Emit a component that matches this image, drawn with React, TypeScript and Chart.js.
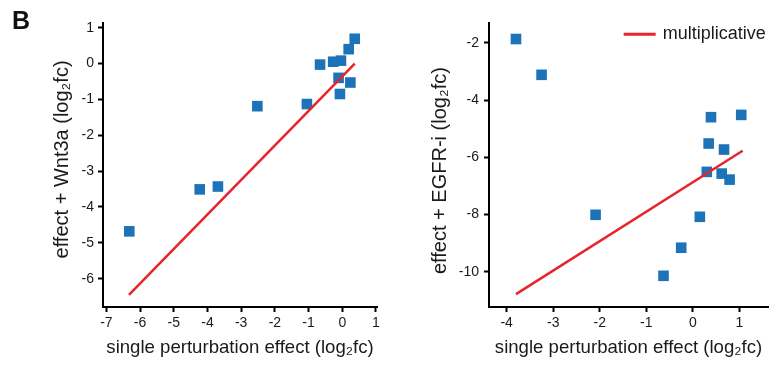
import React, { useEffect, useRef } from "react";
import { Chart, registerables } from "chart.js";

Chart.register(...registerables);

const FONT = '"Liberation Sans", Arial, Helvetica, sans-serif';
const TEXT = "#1a1a1a";
const BLUE = "#1c73b9";
const RED = "#e8232a";

// Left panel: effect + Wnt3a vs single perturbation effect
const wntSingle = [-6.32, -4.23, -3.69, -2.52, -1.05, -0.66, -0.27, -0.04, -0.11, -0.07, 0.24, 0.19, 0.37];
const wntCombined = [-4.68, -3.51, -3.43, -1.19, -1.13, -0.03, 0.05, 0.08, -0.4, -0.85, -0.53, 0.4, 0.69];
const wntLineX = [-6.33, 0.37];
const wntLineY = [-6.45, 0.0];

// Right panel: effect + EGFR-i vs single perturbation effect
const egfrSingle = [-3.8, -3.25, -2.09, -0.63, -0.25, 0.15, 0.3, 0.34, 0.39, 0.67, 0.62, 0.79, 1.04];
const egfrCombined = [-1.87, -3.12, -8.01, -10.14, -9.16, -8.08, -6.51, -5.52, -4.6, -5.73, -6.57, -6.78, -4.52];
const egfrLineX = [-3.8, 1.07];
const egfrLineY = [-10.78, -5.77];

const lineLabel = "multiplicative";
const xTitle = "single perturbation effect (log\u2082fc)";
const wntYTitle = "  effect + Wnt3a (log\u2082fc)";
const egfrYTitle = "effect + EGFR-i (log\u2082fc)  ";
const panelLabel = "B";

const inlineLegend = {
  id: "inlineLegend",
  afterDraw(chart: any, _args: any, opts: any) {
    if (!opts || !opts.show) return;
    const ds = chart.data.datasets.find((d: any) => d.label);
    if (!ds) return;
    const ctx = chart.ctx;
    const { right, top } = chart.chartArea;
    ctx.save();
    ctx.font = `18px ${FONT}`;
    const w = ctx.measureText(ds.label).width;
    const textX = right - 2.3 - w;
    const y = top + 11.3;
    ctx.fillStyle = TEXT;
    ctx.textBaseline = "middle";
    ctx.textAlign = "left";
    ctx.fillText(ds.label, textX, y);
    ctx.strokeStyle = ds.borderColor;
    ctx.lineWidth = 3;
    ctx.beginPath();
    ctx.moveTo(textX - 39, y);
    ctx.lineTo(textX - 7, y);
    ctx.stroke();
    ctx.restore();
  },
};

function makeConfig(p: {
  xs: number[];
  ys: number[];
  lx: number[];
  ly: number[];
  xMin: number;
  xMax: number;
  yMin: number;
  yMax: number;
  yStep: number;
  yTitle: string;
  yTitlePad: number;
  yWidth: number;
  yTickPad: number;
  padRight: number;
  legend: boolean;
}) {
  const axisCommon = {
    grid: {
      display: true,
      drawOnChartArea: false,
      drawTicks: true,
      tickLength: 5,
      tickWidth: 2,
      tickColor: "#000",
    },
    border: { display: true, width: 2, color: "#000" },
  };
  return {
    type: "scatter" as const,
    data: {
      datasets: [
        {
          label: lineLabel,
          data: p.lx.map((x, i) => ({ x, y: p.ly[i] })),
          showLine: true,
          pointRadius: 0,
          borderColor: RED,
          backgroundColor: RED,
          borderWidth: 2.5,
          order: 0,
        },
        {
          label: "",
          data: p.xs.map((x, i) => ({ x, y: p.ys[i] })),
          pointStyle: "rect",
          pointRadius: 7.5,
          pointHoverRadius: 7.5,
          backgroundColor: BLUE,
          borderColor: BLUE,
          borderWidth: 0,
          order: 1,
        },
      ],
    },
    options: {
      responsive: false,
      animation: false,
      devicePixelRatio: 1,
      layout: { padding: { left: 0, right: p.padRight, top: 23, bottom: 0 } },
      plugins: {
        legend: { display: false },
        tooltip: { enabled: false },
        inlineLegend: { show: p.legend },
      },
      scales: {
        x: {
          type: "linear",
          min: p.xMin,
          max: p.xMax,
          ...axisCommon,
          ticks: {
            stepSize: 1,
            includeBounds: false,
            padding: 3,
            color: TEXT,
            font: { family: FONT, size: 14 },
            maxRotation: 0,
          },
          title: {
            display: true,
            text: xTitle,
            color: TEXT,
            font: { family: FONT, size: 18.6 },
            padding: { top: 0, bottom: 7.8 },
          },
          afterFit: (s: any) => {
            s.height = 60;
          },
        },
        y: {
          type: "linear",
          min: p.yMin,
          max: p.yMax,
          ...axisCommon,
          ticks: {
            stepSize: p.yStep,
            includeBounds: false,
            padding: p.yTickPad,
            color: TEXT,
            font: { family: FONT, size: 14 },
          },
          title: {
            display: true,
            text: p.yTitle,
            color: TEXT,
            font: { family: FONT, size: 20 },
            padding: { top: p.yTitlePad, bottom: 0 },
          },
          afterFit: (s: any) => {
            s.width = p.yWidth;
          },
        },
      },
    },
    plugins: [inlineLegend],
  };
}

export default function App() {
  const leftRef = useRef<HTMLCanvasElement>(null);
  const rightRef = useRef<HTMLCanvasElement>(null);

  useEffect(() => {
    const left = new Chart(
      leftRef.current as HTMLCanvasElement,
      makeConfig({
        xs: wntSingle,
        ys: wntCombined,
        lx: wntLineX,
        ly: wntLineY,
        xMin: -7.1,
        xMax: 1.03,
        yMin: -6.79,
        yMax: 1.13,
        yStep: 1,
        yTitle: wntYTitle,
        yTitlePad: 50,
        yWidth: 103,
        yTickPad: 4,
        padRight: 13,
        legend: false,
      }) as any
    );
    const right = new Chart(
      rightRef.current as HTMLCanvasElement,
      makeConfig({
        xs: egfrSingle,
        ys: egfrCombined,
        lx: egfrLineX,
        ly: egfrLineY,
        xMin: -4.38,
        xMax: 1.615,
        yMin: -11.23,
        yMax: -1.31,
        yStep: 2,
        yTitle: egfrYTitle,
        yTitlePad: 38,
        yWidth: 99,
        yTickPad: 5,
        padRight: 10,
        legend: true,
      }) as any
    );
    return () => {
      left.destroy();
      right.destroy();
    };
  }, []);

  return (
    <div
      style={{
        position: "fixed",
        left: 0,
        top: 0,
        width: 778,
        height: 367,
        background: "#fff",
        overflow: "hidden",
      }}
    >
      <canvas
        ref={leftRef}
        width={390}
        height={367}
        style={{ position: "absolute", left: 0, top: 0, display: "block" }}
      />
      <canvas
        ref={rightRef}
        width={388}
        height={367}
        style={{ position: "absolute", left: 390, top: 0, display: "block" }}
      />
      <div
        style={{
          position: "absolute",
          left: 12,
          top: 8,
          font: `bold 25px ${FONT}`,
          lineHeight: "25px",
          color: "#111",
        }}
      >
        {panelLabel}
      </div>
    </div>
  );
}
